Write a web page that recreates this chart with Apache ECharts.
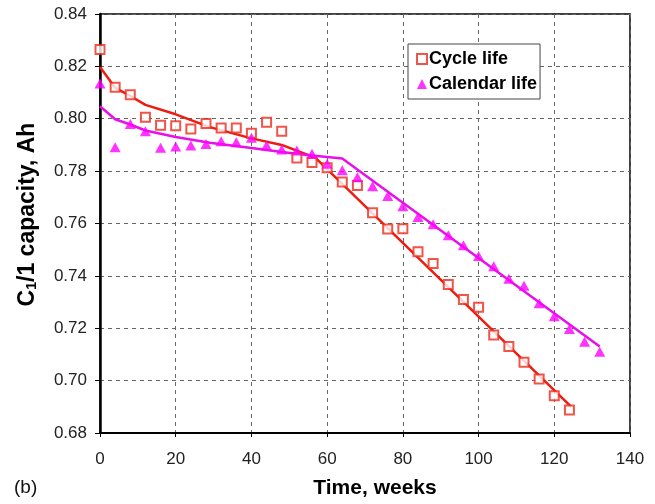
<!DOCTYPE html>
<html>
<head>
<meta charset="utf-8">
<script src="https://cdn.jsdelivr.net/npm/echarts@6/dist/echarts.min.js"></script>
<style>
  html, body { margin: 0; padding: 0; background: #fff; }
  #chart { width: 655px; height: 504px; }
</style>
</head>
<body>
<div id="chart"></div>
<script>
// measured points, one every 4 weeks
const cycleWeeks = [0, 4, 8, 12, 16, 20, 24, 28, 32, 36, 40, 44, 48, 52, 56, 60,
  64, 68, 72, 76, 80, 84, 88, 92, 96, 100, 104, 108, 112, 116, 120, 124]
const cycleCap = [0.8264, 0.8120, 0.8092, 0.8006, 0.7975, 0.7973, 0.7961, 0.7982,
  0.7965, 0.7965, 0.7945, 0.7987, 0.7952, 0.7850, 0.7833, 0.7813, 0.7758, 0.7745,
  0.7641, 0.7579, 0.7580, 0.7492, 0.7447, 0.7367, 0.7310, 0.7280, 0.7174, 0.7130,
  0.7070, 0.7006, 0.6942, 0.6888]

const calWeeks = [0, 4, 8, 12, 16, 20, 24, 28, 32, 36, 40, 44, 48, 52, 56, 60,
  64, 68, 72, 76, 80, 84, 88, 92, 96, 100, 104, 108, 112, 116, 120, 124, 128, 132]
const calCap = [0.8135, 0.7891, 0.7980, 0.7952, 0.7889, 0.7894, 0.7898, 0.7904,
  0.7914, 0.7910, 0.7927, 0.7898, 0.7883, 0.7879, 0.7866, 0.7828, 0.7803, 0.7777,
  0.7742, 0.7705, 0.7666, 0.7625, 0.7597, 0.7555, 0.7517, 0.7476, 0.7437, 0.7389,
  0.7362, 0.7295, 0.7246, 0.7197, 0.7148, 0.7110]

// model fit lines
const cycleFitWeeks = [0, 4, 8, 12, 20, 29, 40, 48, 57, 124.5]
const cycleFitCap = [0.8198, 0.8118, 0.8087, 0.8053, 0.8017, 0.7968, 0.7925, 0.7900, 0.7850, 0.6900]
const calFitWeeks = [0, 4, 8, 12, 20, 29, 40, 48, 56, 64, 132]
const calFitCap = [0.8048, 0.7998, 0.7978, 0.7955, 0.7930, 0.7908, 0.7888, 0.7873, 0.7860, 0.7848, 0.7130]

const pairs = (xs, ys) => xs.map((x, i) => [x, ys[i]])

const chart = echarts.init(document.getElementById('chart'))
const font = 'Liberation Sans, Arial, sans-serif'

chart.setOption({
  animation: false,
  textStyle: { fontFamily: font },
  title: {
    text: '(b)',
    left: 14,
    top: 478,
    padding: 0,
    textStyle: { fontFamily: font, fontSize: 19, fontWeight: 'normal', color: '#111' }
  },
  grid: {
    left: 100, right: 25, top: 14, bottom: 70,
    show: true, borderColor: '#000', borderWidth: 1.5, backgroundColor: '#fff'
  },
  legend: {
    data: ['Cycle life', 'Calendar life'],
    orient: 'vertical',
    left: 408,
    top: 44,
    padding: [6, 3, 6, 8],
    itemGap: 7,
    itemWidth: 10,
    itemHeight: 10,
    backgroundColor: '#fff',
    borderColor: '#444',
    borderWidth: 1,
    borderRadius: 0,
    textStyle: { fontFamily: font, fontSize: 18, fontWeight: 'bold', color: '#000', padding: [0, 0, 0, -3] }
  },
  xAxis: {
    type: 'value',
    min: 0,
    max: 140,
    interval: 20,
    name: 'Time, weeks',
    nameLocation: 'middle',
    nameGap: 45,
    nameTextStyle: { fontFamily: font, fontSize: 21, fontWeight: 'bold', color: '#000', padding: [0, 0, 0, 20] },
    axisLine: { show: true, onZero: false, lineStyle: { color: '#000', width: 2 } },
    axisTick: { show: true, inside: false, length: 4, lineStyle: { color: '#000' } },
    axisLabel: { fontSize: 17, color: '#222', margin: 18 },
    splitLine: { show: true, lineStyle: { color: '#666', type: [4, 4], width: 1 } }
  },
  yAxis: {
    type: 'value',
    min: 0.68,
    max: 0.84,
    interval: 0.02,
    name: '{b|C}{s|1}{b|/1 capacity, Ah}',
    nameLocation: 'middle',
    nameGap: 61,
    nameRotate: 90,
    nameTextStyle: {
      padding: [0, 0, 0, 18],
      rich: {
        b: { fontFamily: font, fontSize: 23, fontWeight: 'bold', color: '#000' },
        s: { fontFamily: font, fontSize: 14, fontWeight: 'bold', color: '#000', padding: [9, 0, 0, 0] }
      }
    },
    axisLine: { show: true, onZero: false, lineStyle: { color: '#000', width: 2.5 } },
    axisTick: { show: true, length: 5, lineStyle: { color: '#000' } },
    axisLabel: { fontSize: 17, color: '#222', margin: 13, formatter: v => v.toFixed(2) },
    splitLine: { show: true, lineStyle: { color: '#666', type: [4, 4], width: 1 } }
  },
  series: [
    {
      name: 'Cycle fit',
      type: 'line',
      data: pairs(cycleFitWeeks, cycleFitCap),
      showSymbol: false,
      lineStyle: { color: '#ee1c10', width: 2.5 },
      z: 2
    },
    {
      name: 'Calendar fit',
      type: 'line',
      data: pairs(calFitWeeks, calFitCap),
      showSymbol: false,
      lineStyle: { color: '#e810e8', width: 2.5 },
      z: 2
    },
    {
      name: 'Cycle life',
      type: 'scatter',
      data: pairs(cycleWeeks, cycleCap),
      symbol: 'emptyRect',
      symbolSize: 9,
      itemStyle: { color: '#ee2a1c', borderWidth: 1.3 },
      z: 3
    },
    {
      name: 'Calendar life',
      type: 'scatter',
      data: pairs(calWeeks, calCap),
      symbol: 'triangle',
      symbolSize: [11, 10],
      itemStyle: { color: '#ff00ff' },
      z: 4
    }
  ]
})
</script>
</body>
</html>
